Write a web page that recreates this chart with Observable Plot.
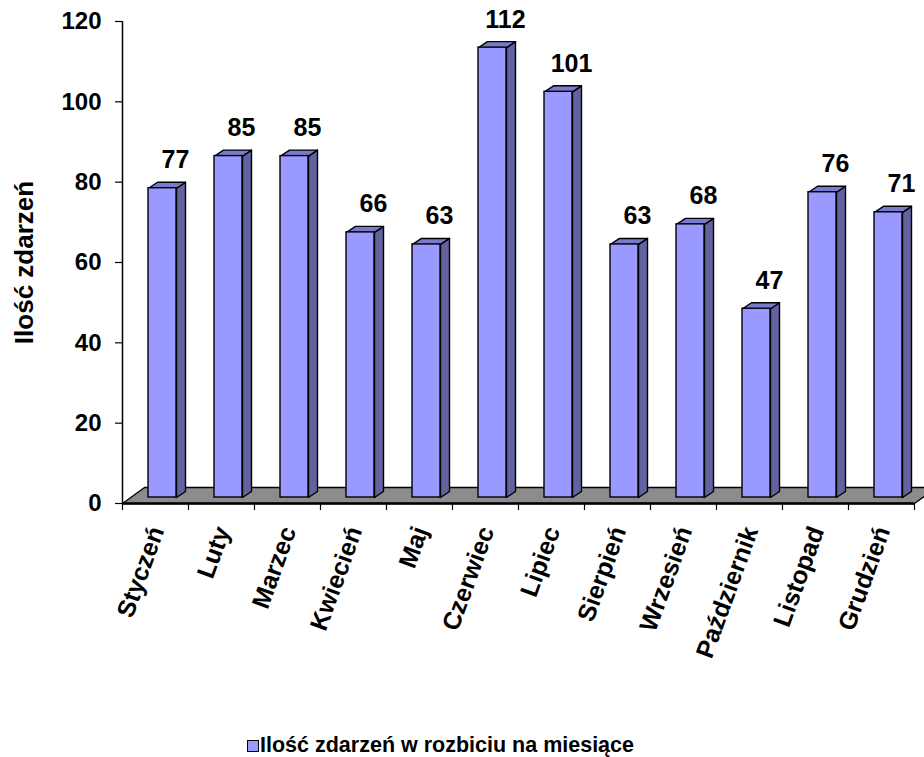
<!DOCTYPE html>
<html><head><meta charset="utf-8">
<script src="https://cdn.jsdelivr.net/npm/d3@7"></script>
<script src="https://cdn.jsdelivr.net/npm/@observablehq/plot@0.6"></script>
<style>
html,body{margin:0;padding:0;background:#fff;overflow:hidden;width:924px;height:757px}
#legend{position:relative;height:27px;font-family:"Liberation Sans",Arial,sans-serif;font-weight:bold;font-size:21.5px;color:#000}
#legend .sw{position:absolute;left:247px;top:10px;width:10px;height:10px;background:#9999FF;border:1.5px solid #000}
#legend .tx{position:absolute;left:260px;top:5px;line-height:21px;white-space:nowrap}
</style></head><body><div id="chart"></div><div id="legend"></div>
<script>
const months = ["Styczeń","Luty","Marzec","Kwiecień","Maj","Czerwiec","Lipiec","Sierpień","Wrzesień","Październik","Listopad","Grudzień"];
const counts = [77,85,85,66,63,112,101,63,68,47,76,71];
const yTicks = [0,20,40,60,80,100,120];
const seriesName = "Ilość zdarzeń w rozbiciu na miesiące";
const yTitle = "Ilość zdarzeń";

const W = 924, H = 730, mL = 122, mR = 10, mT = 21, mB = 227;
const pxX = months.length / (W - mL - mR);   // x data units per pixel
const pxY = 120 / (H - mT - mB);             // y data units per pixel

// 3D geometry (pixels)
const barOff = 26, barW = 28, depX = 9, depY = 6, lift = 6, floorX = 22, floorY = 16;

const bars = counts.map((v, i) => ({
  i, v, month: months[i],
  x1: i + barOff * pxX,
  x2: i + (barOff + barW) * pxX
}));

const L = lift * pxY, dX = depX * pxX, dY = depY * pxY;
const sides = bars.flatMap(b => [
  {id: b.i, x: b.x2, y: L},
  {id: b.i, x: b.x2, y: b.v + L},
  {id: b.i, x: b.x2 + dX, y: b.v + L + dY},
  {id: b.i, x: b.x2 + dX, y: L + dY}
]);
const tops = bars.flatMap(b => [
  {id: b.i, x: b.x1, y: b.v + L},
  {id: b.i, x: b.x2, y: b.v + L},
  {id: b.i, x: b.x2 + dX, y: b.v + L + dY},
  {id: b.i, x: b.x1 + dX, y: b.v + L + dY}
]);
const n = months.length;
const floor = [
  {x: 0, y: 0}, {x: n, y: 0},
  {x: n + floorX * pxX, y: floorY * pxY}, {x: floorX * pxX, y: floorY * pxY}
];

const font = "'Liberation Sans', Arial, sans-serif";

const chart = Plot.plot({
  width: W, height: H,
  marginLeft: mL, marginRight: mR, marginTop: mT, marginBottom: mB,
  style: {fontFamily: font, color: "#000", background: "#fff", overflow: "hidden"},
  x: {type: "linear", domain: [0, n], axis: null},
  y: {type: "linear", domain: [0, 120], axis: null},
  marks: [
    Plot.line(floor, {x: "x", y: "y", curve: "linear-closed", fill: "#8c8c8c", stroke: "#000", strokeWidth: 1.3}),
    Plot.ruleY([0], {x1: 0, x2: n, stroke: "#000", strokeWidth: 2.5}),
    Plot.line(sides, {x: "x", y: "y", z: "id", curve: "linear-closed", fill: "#62629F", stroke: "#000", strokeWidth: 1.4}),
    Plot.line(tops, {x: "x", y: "y", z: "id", curve: "linear-closed", fill: "#7A7ACC", stroke: "#000", strokeWidth: 1.4}),
    Plot.rect(bars, {x1: "x1", x2: "x2", y1: L, y2: d => d.v + L, fill: "#9999FF", stroke: "#000", strokeWidth: 1.4}),
    Plot.ruleX([0], {y1: 0, y2: 120, stroke: "#000", strokeWidth: 1.5}),
    Plot.axisY({ticks: yTicks, tickSize: 7, tickPadding: 14, fontSize: 24, fontWeight: "bold", fill: "#000", stroke: "#000", strokeWidth: 1.2, label: null}),
    Plot.axisX({ticks: d3.range(n + 1), tickSize: 7, tickFormat: () => "", stroke: "#000", strokeWidth: 1.2, label: null}),
    Plot.text(bars, {x: d => d.i + 53 * pxX, y: "v", text: d => String(d.v), dy: -26, lineAnchor: "bottom", fontSize: 25, fontWeight: "bold", fill: "#000"}),
    Plot.text(bars, {x: d => d.i + 0.5, y: 0, text: "month", rotate: -70, textAnchor: "end", lineAnchor: "bottom", dx: 9, dy: 27, fontSize: 25, fontWeight: "bold", fill: "#000"}),
    Plot.text([yTitle], {text: d => d, frameAnchor: "left", textAnchor: "middle", dx: -90, rotate: -90, lineAnchor: "bottom", fontSize: 26, fontWeight: "bold", fill: "#000"})
  ]
});
document.getElementById("chart").appendChild(chart);

const lg = document.getElementById("legend");
lg.innerHTML = `<div class="sw"></div><div class="tx"></div>`;
lg.querySelector(".tx").textContent = seriesName;
</script>
</body></html>
